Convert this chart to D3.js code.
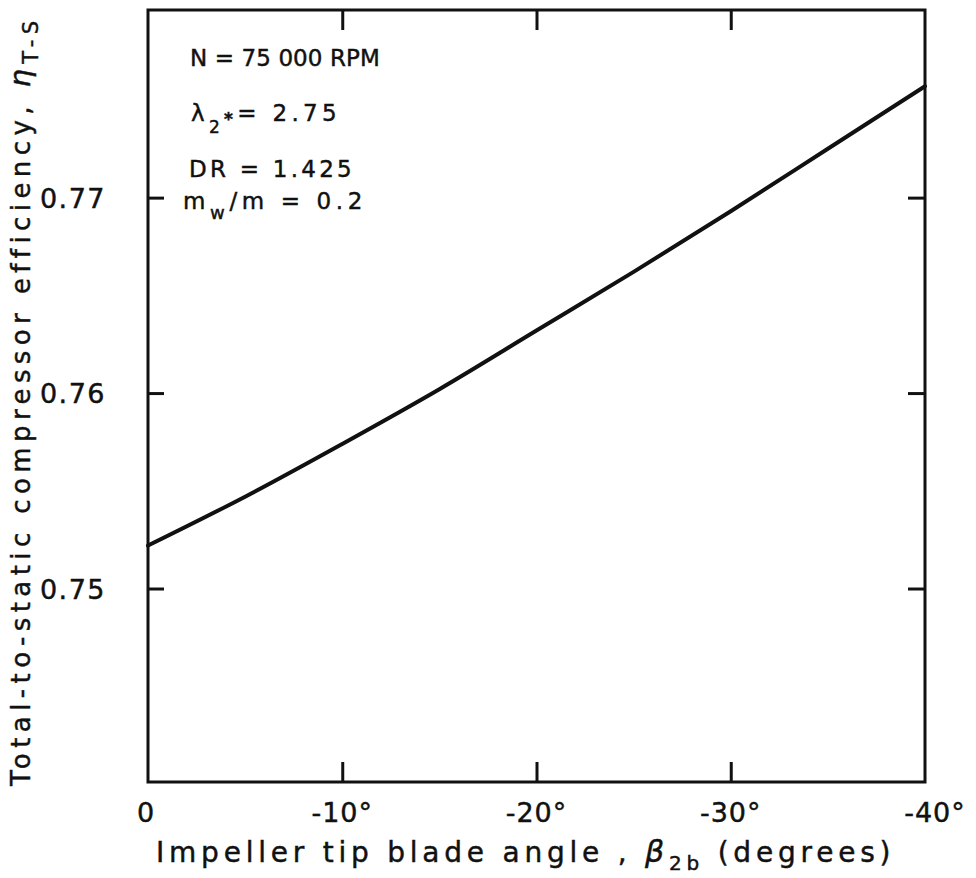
<!DOCTYPE html>
<html><head><meta charset="utf-8">
<script src="https://cdn.jsdelivr.net/npm/d3@7/dist/d3.min.js"></script>
<style>
html,body{margin:0;padding:0;background:#fff;}
svg text{font-family:"DejaVu Sans","Liberation Sans",sans-serif;fill:#111;stroke:#111;stroke-width:0.45px;}
</style></head>
<body>
<svg id="chart" width="976" height="878"></svg>
<script>
// Data
const bladeAngle = [0, -5, -10, -15, -20, -25, -30, -35, -40];
const efficiency = [0.7522, 0.7547, 0.7574, 0.7602, 0.7632, 0.7662, 0.7693, 0.7725, 0.7757];
const xTicks = [0, -10, -20, -30, -40];
const xTickLabels = ["0", "-10°", "-20°", "-30°", "-40°"];
const yTicks = [0.75, 0.76, 0.77];
const yTickLabels = ["0.75", "0.76", "0.77"];

const svg = d3.select("#chart");
const L = 148, R = 925, T = 10, B = 782;
const x = d3.scaleLinear().domain([0, -40]).range([L, R]);
const y = d3.scaleLinear().domain([0.7401, 0.7796]).range([B, T]);
const ink = "#111";

// spread a text element's letters so that it spans a given length
function fit(sel, target) {
  const node = sel.node();
  const n = node.textContent.length;
  const len = node.getComputedTextLength();
  sel.attr("letter-spacing", Math.max(0, (target - len) / n));
}

// frame
svg.append("rect").attr("x", L).attr("y", T).attr("width", R - L).attr("height", B - T)
  .attr("fill", "none").attr("stroke", ink).attr("stroke-width", 3);

// axes with inward ticks
const gB = svg.append("g").attr("transform", `translate(0,${B})`)
  .call(d3.axisBottom(x).tickValues(xTicks.slice(1, -1)).tickSize(-20).tickFormat(""));
const gT = svg.append("g").attr("transform", `translate(0,${T})`)
  .call(d3.axisTop(x).tickValues(xTicks.slice(1, -1)).tickSize(-20).tickFormat(""));
const gL = svg.append("g").attr("transform", `translate(${L},0)`)
  .call(d3.axisLeft(y).tickValues(yTicks).tickSize(-16).tickFormat(""));
const gR = svg.append("g").attr("transform", `translate(${R},0)`)
  .call(d3.axisRight(y).tickValues(yTicks).tickSize(-17).tickFormat(""));
[gB, gT, gL, gR].forEach(g => {
  g.select(".domain").remove();
  g.selectAll(".tick line").attr("stroke", ink).attr("stroke-width", 3);
});

// tick labels
svg.append("g").selectAll("text").data(xTicks).join("text")
  .attr("x", (d, i) => x(d) + (i === 0 ? -2 : (i === xTicks.length - 1 ? 10 : 0)))
  .attr("y", 822)
  .attr("text-anchor", "middle")
  .attr("font-size", 27).attr("letter-spacing", 1)
  .text((d, i) => xTickLabels[i]);

svg.append("g").selectAll("text").data(yTicks).join("text")
  .attr("x", 106).attr("y", d => y(d) + 10)
  .attr("text-anchor", "end")
  .attr("font-size", 27).attr("letter-spacing", 1.5)
  .text((d, i) => yTickLabels[i]);

// curve
const line = d3.line().x((d, i) => x(bladeAngle[i])).y(d => y(d)).curve(d3.curveMonotoneX);
svg.append("path").datum(efficiency).attr("d", line)
  .attr("fill", "none").attr("stroke", ink).attr("stroke-width", 4).attr("stroke-linecap", "round");

// annotations
const ann = svg.append("g").attr("font-size", 23);
const t1 = ann.append("text").attr("x", 190).attr("y", 66).text("N = 75 000 RPM");
fit(t1, 190);
const t2 = ann.append("text").attr("x", 191).attr("y", 121);
t2.append("tspan").text("λ");
t2.append("tspan").attr("dy", 12).attr("font-size", 17).text("2");
t2.append("tspan").attr("dy", -8).attr("font-size", 17).attr("font-weight", "bold").text("*");
t2.append("tspan").attr("dy", -4).text("= 2.75");
fit(t2, 150);
const t3 = ann.append("text").attr("x", 189).attr("y", 177).text("DR = 1.425");
fit(t3, 166);
const t4 = ann.append("text").attr("x", 183).attr("y", 209);
t4.append("tspan").text("m");
t4.append("tspan").attr("dy", 10).attr("font-size", 18).text("w");
t4.append("tspan").attr("dy", -10).text("/m = 0.2");
fit(t4, 184);

// x axis title
const xt = svg.append("text").attr("x", 156).attr("y", 862).attr("font-size", 28);
xt.append("tspan").text("Impeller  tip blade angle , ");
xt.append("tspan").attr("font-style", "italic").attr("font-size", 30).text("β");
xt.append("tspan").attr("dy", 8).attr("font-size", 20).text("2b");
xt.append("tspan").attr("dy", -8).text(" (degrees)");
fit(xt, 744);

// y axis title
const yt = svg.append("text").attr("transform", "translate(30,786) rotate(-90)").attr("font-size", 26);
yt.append("tspan").text("Total-to-static compressor efficiency, ");
yt.append("tspan").attr("font-style", "italic").attr("font-size", 29).text("η");
yt.append("tspan").attr("dy", 8).attr("font-size", 21).text("T-S");
fit(yt, 770);
</script>
</body></html>
